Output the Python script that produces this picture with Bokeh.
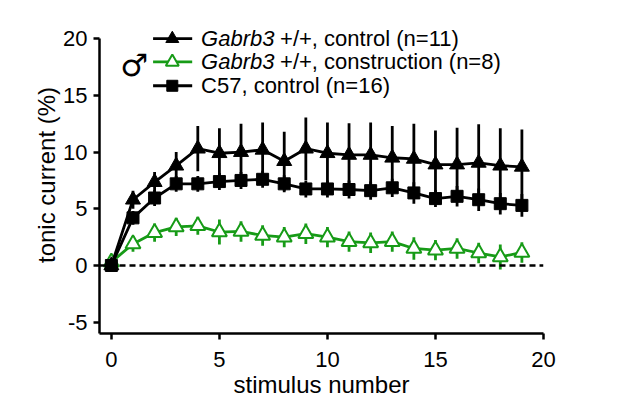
from bokeh.plotting import figure
from bokeh.models import Range1d, Span, Label, ColumnDataSource, FixedTicker
from bokeh.embed import file_html
from bokeh.resources import INLINE

stim = list(range(20))

ctrl_mean = [0.0, 5.8, 7.35, 8.8, 10.3, 9.9, 10.0, 10.2, 9.2, 10.3,
             9.9, 9.75, 9.75, 9.5, 9.4, 8.9, 8.9, 9.05, 8.8, 8.7]
ctrl_err = [0.0, 0.8, 0.9, 1.2, 2.0, 2.2, 2.5, 2.4, 2.6, 2.75,
            2.7, 2.8, 2.85, 2.8, 3.1, 3.0, 3.25, 3.4, 3.3, 3.3]

constr_mean = [0.3, 1.9, 2.9, 3.4, 3.5, 2.95, 3.0, 2.65, 2.5, 2.8,
               2.5, 2.1, 2.0, 2.1, 1.5, 1.35, 1.5, 1.1, 0.75, 1.15]
constr_err = [0.3, 0.7, 0.8, 0.8, 0.8, 1.1, 0.9, 0.9, 0.9, 0.9,
              0.9, 0.9, 0.9, 0.9, 1.0, 0.9, 0.9, 0.9, 1.1, 0.9]

c57_mean = [0.0, 4.2, 5.95, 7.2, 7.2, 7.4, 7.5, 7.6, 7.2, 6.75,
            6.75, 6.7, 6.6, 6.85, 6.4, 5.9, 6.1, 5.8, 5.45, 5.3]
c57_err = [0.0, 0.6, 0.7, 0.7, 0.7, 0.75, 0.75, 0.75, 0.75, 0.75,
           0.75, 0.8, 0.8, 0.8, 0.95, 0.75, 0.9, 1.0, 0.95, 1.0]

labels_italic = ["Gabrb3", "Gabrb3", ""]
labels_rest = ["+/+, control (n=11)", "+/+, construction (n=8)", "C57, control (n=16)"]

x_ticks = [0, 5, 10, 15, 20]
y_ticks = [-5, 0, 5, 10, 15, 20]
y_tick_text = {t: str(t) for t in y_ticks}

GREEN = "#179b17"
FONT = "Liberation Sans"

p = figure(width=600, height=403, output_backend="svg", toolbar_location=None,
           x_range=Range1d(-0.55, 20.0), y_range=Range1d(-6.0, 21.96),
           min_border_left=99, min_border_right=57, min_border_top=16, min_border_bottom=70)
p.outline_line_color = None
p.grid.visible = False
p.background_fill_color = "white"

for ax in (p.xaxis[0], p.yaxis[0]):
    ax.axis_line_width = 2.5
    ax.major_tick_line_width = 2.5
    ax.major_tick_out = 6
    ax.major_tick_in = 0
    ax.minor_tick_out = 0
    ax.minor_tick_in = 0
    ax.major_label_text_font = FONT
    ax.major_label_text_font_size = "22px"
    ax.major_label_text_color = "black"
    ax.axis_label_text_font = FONT
    ax.axis_label_text_font_size = "24px"
    ax.axis_label_text_font_style = "normal"
    ax.axis_label_text_color = "black"

p.xaxis.ticker = FixedTicker(ticks=x_ticks)
p.yaxis.ticker = FixedTicker(ticks=y_ticks)
p.yaxis.major_label_overrides = y_tick_text
p.yaxis.bounds = (-6, 20)
p.xaxis.axis_label = "stimulus number"
p.yaxis.axis_label = "tonic current (%)"
p.xaxis.major_label_standoff = 12
p.yaxis.major_label_standoff = 6
p.xaxis.axis_label_standoff = 1
p.yaxis.axis_label_standoff = 0

p.add_layout(Span(location=0, dimension="width", line_color="black",
                  line_width=2.5, line_dash="6 4"))

def add_series(mean, err, color, marker, size, fill):
    lower = [m - e for m, e in zip(mean, err)]
    upper = [m + e for m, e in zip(mean, err)]
    src = ColumnDataSource(dict(x=stim, y=mean, lo=lower, hi=upper))
    p.segment(x0="x", y0="lo", x1="x", y1="hi", source=src, line_color=color, line_width=2.8)
    p.line("x", "y", source=src, line_color=color, line_width=2.8)
    p.scatter("x", "y", source=src, marker=marker, size=size, line_color=color,
              fill_color=fill, line_width=2 if fill == "white" else 1)

add_series(constr_mean, constr_err, GREEN, "triangle", 15, "white")
add_series(c57_mean, c57_err, "black", "square", 12, "black")
add_series(ctrl_mean, ctrl_err, "black", "triangle", 15, "black")

# legend (layout positions in data units)
leg_x0, leg_x1, leg_xm = 1.93, 3.74, 2.82
leg_rows = [20.0, 17.95, 15.85]
leg_styles = [("black", "triangle", 13, "black"), (GREEN, "triangle", 13, "white"),
              ("black", "square", 11, "black")]
for yy, (color, marker, size, fill) in zip(leg_rows, leg_styles):
    p.line([leg_x0, leg_x1], [yy, yy], line_color=color, line_width=2.8)
    p.scatter([leg_xm], [yy], marker=marker, size=size, line_color=color, fill_color=fill,
              line_width=2 if fill == "white" else 1)

text_x = 4.15
for yy, it, rest in zip(leg_rows, labels_italic, labels_rest):
    if it:
        p.add_layout(Label(x=text_x, y=yy, text=it, text_font=FONT, text_font_size="22px",
                           text_font_style="italic", text_baseline="middle", text_color="black"))
        p.add_layout(Label(x=text_x, y=yy, x_offset=79, text=rest, text_font=FONT,
                           text_font_size="22px", text_baseline="middle", text_color="black"))
    else:
        p.add_layout(Label(x=text_x, y=yy, text=rest, text_font=FONT, text_font_size="22px",
                           text_baseline="middle", text_color="black"))

p.add_layout(Label(x=1.05, y=17.7, text="♂", text_font="DejaVu Sans", text_font_size="31px",
                   text_align="center", text_baseline="middle", text_color="black"))

open("out.html", "w").write(file_html(p, INLINE))
